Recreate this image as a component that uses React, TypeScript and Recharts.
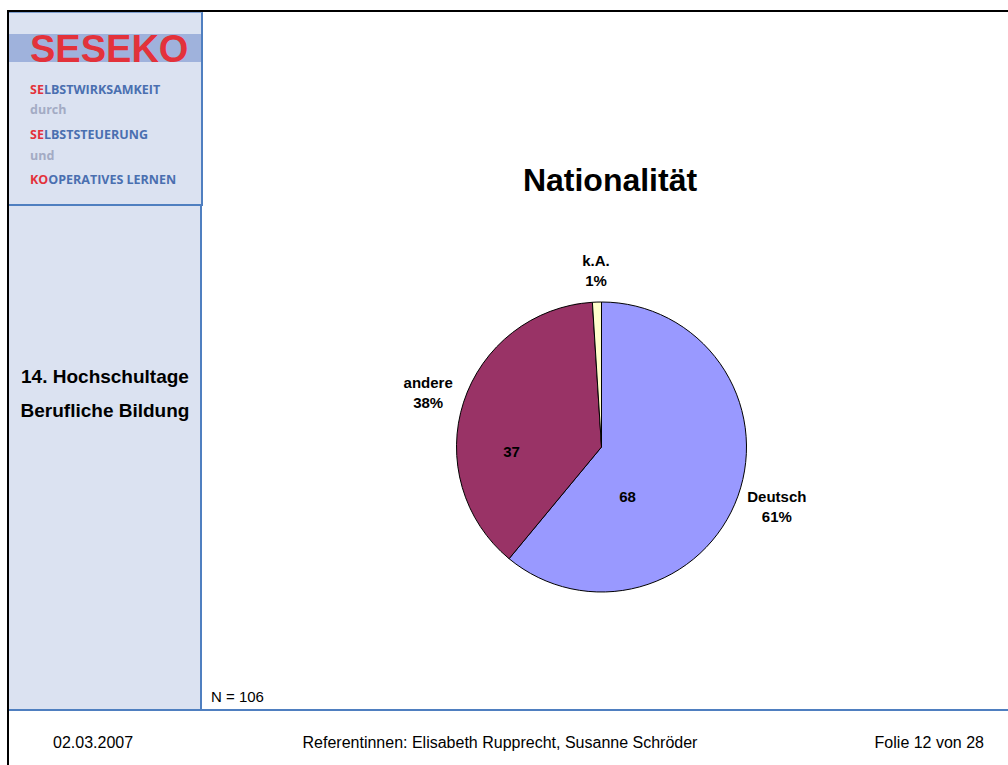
import { PieChart, Pie, Cell } from 'recharts'

const categories = ['Deutsch', 'andere', 'k.A.']
const percents = [61, 38, 1]
const counts = [68, 37, 1]
const percentLabels = ['61%', '38%', '1%']
const COLORS = ['#9999FF', '#993366', '#FFFFCC']

const sampleSize = 'N = 106'
const title = 'Nationalität'

// count labels placed inside the slices (offset from centre, in units of radius)
const INNER_POS: ([number, number] | null)[] = [[0.18, 0.34], [-0.62, 0.03], null]

const data = categories.map((name, i) => ({ name, value: percents[i], count: counts[i] }))

const FONT = '"Liberation Sans", Arial, sans-serif'
const BLUE = '#4f7fc0'
const SIDE = '#dbe2f1'

const RAD = Math.PI / 180

function renderLabel(props: any) {
    const { cx, cy, midAngle, outerRadius, index } = props
    const dx = Math.cos(-midAngle * RAD)
    const dy = Math.sin(-midAngle * RAD)
    const name = categories[index]
    const halfW = Math.max(name.length, 3) * 4.2
    const anchor = outerRadius + 12
    const ox = cx + dx * (anchor + halfW)
    const oy = cy + dy * (anchor + 20)
    const inner = INNER_POS[index]
    const style = { fontFamily: FONT, fontSize: 15, fontWeight: 700, fill: '#000' }
    return (
        <g key={`lbl-${index}`}>
            <text x={ox} y={oy - 10} textAnchor="middle" dominantBaseline="central" style={style}>
                {name}
            </text>
            <text x={ox} y={oy + 10} textAnchor="middle" dominantBaseline="central" style={style}>
                {percentLabels[index]}
            </text>
            {inner && (
                <text
                    x={cx + inner[0] * outerRadius}
                    y={cy + inner[1] * outerRadius}
                    textAnchor="middle"
                    dominantBaseline="central"
                    style={style}
                >
                    {counts[index]}
                </text>
            )}
        </g>
    )
}

function Txt({ x, y, size, children, bold, color, align, width }: any) {
    const lh = Math.round(size * 1.4)
    const w = width ?? 600
    let left = x
    if (align === 'center') left = x - w / 2
    if (align === 'right') left = x - w
    return (
        <div
            style={{
                position: 'absolute',
                left,
                top: y - lh / 2,
                width: w,
                lineHeight: `${lh}px`,
                fontSize: size,
                fontWeight: bold ? 700 : 400,
                color: color ?? '#000',
                fontFamily: FONT,
                textAlign: align ?? 'left',
                whiteSpace: 'nowrap',
            }}
        >
            {children}
        </div>
    )
}

function LogoLine({ y, red, rest, color }: any) {
    return (
        <div
            style={{
                position: 'absolute',
                left: 30,
                top: y - 8,
                lineHeight: '16px',
                fontSize: 12.5,
                fontWeight: 700,
                fontFamily: '"Open Sans", "DejaVu Sans", sans-serif',
                color: color ?? '#4a6fb0',
                whiteSpace: 'nowrap',
            }}
        >
            {red && <span style={{ color: '#e3323b' }}>{red}</span>}
            {rest}
        </div>
    )
}

export default function App() {
    return (
        <div
            style={{
                position: 'absolute',
                left: 0,
                top: 0,
                width: 1008,
                height: 765,
                background: '#fff',
                overflow: 'hidden',
            }}
        >
            {/* frame */}
            <div style={{ position: 'absolute', left: 7, top: 10, width: 1001, height: 2, background: '#000' }} />
            <div style={{ position: 'absolute', left: 7, top: 10, width: 2, height: 755, background: '#000' }} />

            {/* sidebar lower part */}
            <div
                style={{
                    position: 'absolute',
                    left: 9,
                    top: 206,
                    width: 191,
                    height: 503,
                    background: SIDE,
                    borderRight: `2px solid ${BLUE}`,
                }}
            />
            {/* logo box */}
            <div
                style={{
                    position: 'absolute',
                    left: 9,
                    top: 12,
                    width: 194,
                    height: 194,
                    background: SIDE,
                    borderTop: `1px solid #7f9fd0`,
                    borderRight: `2px solid ${BLUE}`,
                    borderBottom: `2px solid ${BLUE}`,
                    boxSizing: 'border-box',
                }}
            />
            <div style={{ position: 'absolute', left: 9, top: 34, width: 192, height: 28, background: '#9fb2dc' }} />
            <div
                style={{
                    position: 'absolute',
                    left: 30,
                    top: 28,
                    lineHeight: '42px',
                    fontSize: 38,
                    fontWeight: 700,
                    fontFamily: FONT,
                    color: '#e3323b',
                    whiteSpace: 'nowrap',
                }}
            >
                SESEKO
            </div>
            <LogoLine y={90} red="SE" rest="LBSTWIRKSAMKEIT" />
            <LogoLine y={110} rest="durch" color="#a3abc4" />
            <LogoLine y={135} red="SE" rest="LBSTSTEUERUNG" />
            <LogoLine y={156} rest="und" color="#a3abc4" />
            <LogoLine y={180} red="KO" rest="OPERATIVES LERNEN" />

            <Txt x={105} y={376} size={19} bold align="center" width={190}>14. Hochschultage</Txt>
            <Txt x={105} y={410} size={19} bold align="center" width={190}>Berufliche Bildung</Txt>

            {/* separator */}
            <div style={{ position: 'absolute', left: 9, top: 709, width: 999, height: 2, background: BLUE }} />

            <Txt x={610} y={180} size={32} bold align="center">{title}</Txt>

            <div style={{ position: 'absolute', left: 204, top: 12 }}>
                <PieChart width={804} height={697} margin={{ top: 0, right: 0, bottom: 0, left: 0 }}>
                    <Pie
                        data={data}
                        dataKey="value"
                        nameKey="name"
                        cx={397.5}
                        cy={435}
                        outerRadius={145}
                        startAngle={90}
                        endAngle={-270}
                        stroke="#000"
                        strokeWidth={1}
                        label={renderLabel}
                        labelLine={false}
                        isAnimationActive={false}
                    >
                        {data.map((entry, index) => (
                            <Cell key={`cell-${index}`} fill={COLORS[index % COLORS.length]} />
                        ))}
                    </Pie>
                </PieChart>
            </div>

            <Txt x={211} y={696} size={15}>{sampleSize}</Txt>

            {/* footer */}
            <Txt x={53} y={743} size={16}>02.03.2007</Txt>
            <Txt x={500} y={743} size={16} align="center">Referentinnen: Elisabeth Rupprecht, Susanne Schröder</Txt>
            <Txt x={984} y={743} size={16} align="right">Folie 12 von 28</Txt>
        </div>
    )
}
